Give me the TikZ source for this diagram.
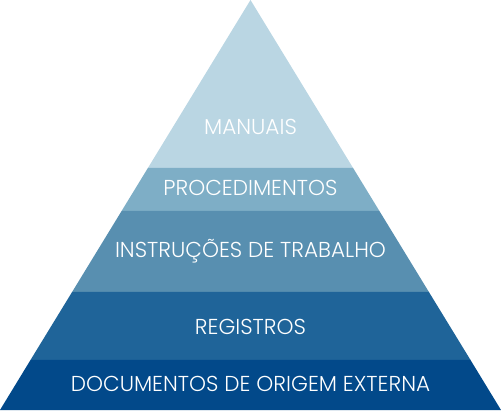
\documentclass[tikz,border=0pt]{standalone}
\usepackage{fontspec}
\setmainfont{Poppins}[UprightFont=* Light]
\usepackage{tikz}
\usetikzlibrary{positioning}

\tikzset{
    rotulo/.style={text=white, font=\fontsize{21.6}{23}\selectfont, inner sep=0pt}
}

\begin{document}
\begin{tikzpicture}[x=1pt, y=1pt]
    % Cores das camadas
    \definecolor{nivel1}{RGB}{186,214,227}  % Azul muito claro
    \definecolor{nivel2}{RGB}{126,174,198}  % Azul claro
    \definecolor{nivel3}{RGB}{88,143,176}   % Azul medio
    \definecolor{nivel4}{RGB}{31,100,153}   % Azul
    \definecolor{nivel5}{RGB}{2,73,138}     % Azul escuro

    \useasboundingbox (0,0) rectangle (501,410);

    % Topo da piramide
    \fill[nivel1] (147.9,242) -- (250.5,410) -- (353.1,242) -- cycle;

    % Segunda camada
    \fill[nivel2] (121.6,199) -- (147.9,242) -- (353.1,242) -- (379.4,199) -- cycle;

    % Terceira camada
    \fill[nivel3] (72.1,118) -- (121.6,199) -- (379.4,199) -- (428.9,118) -- cycle;

    % Quarta camada
    \fill[nivel4] (30.5,50) -- (72.1,118) -- (428.9,118) -- (470.5,50) -- cycle;

    % Base
    \fill[nivel5] (0,0) -- (30.5,50) -- (470.5,50) -- (501,0) -- cycle;

    % Textos
    \node[rotulo] (manuais) at (250.5,283) {MANUAIS};
    \node[rotulo] (proced) at (250.5,222) {PROCEDIMENTOS};
    \node[rotulo] (instr) at (250.5,159) {INSTRUÇÕES DE TRABALHO};
    \node[rotulo] (regist) at (250.5,83) {REGISTROS};
    \node[rotulo] (docext) at (250.5,26) {DOCUMENTOS DE ORIGEM EXTERNA};

\end{tikzpicture}
\end{document}
